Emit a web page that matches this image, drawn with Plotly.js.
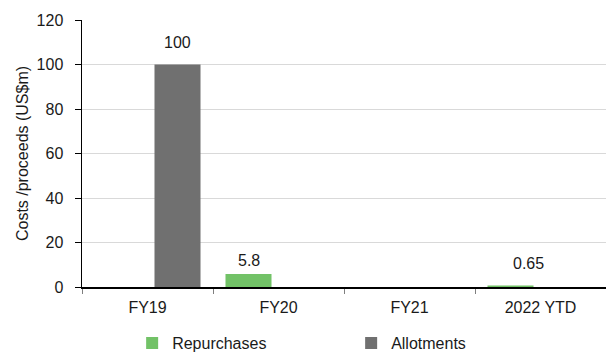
<!DOCTYPE html>
<html>
<head>
<meta charset="utf-8">
<script src="https://cdn.plot.ly/plotly-3.0.1.min.js"></script>
<style>html,body{margin:0;padding:0;background:#fff;}#chart{width:606px;height:356px;}</style>
</head>
<body>
<div id="chart"></div>
<script>
const categories = ["FY19", "FY20", "FY21", "2022 YTD"];
const repurchases = [0, 5.8, 0, 0.65];
const allotments = [100, 0, 0, 0];
const repurchaseLabels = ["", "5.8", "", "0.65"];
const allotmentLabels = ["100", "", "", ""];
const yTicks = [0, 20, 40, 60, 80, 100, 120];

const FONT = "Liberation Sans, Arial, sans-serif";
const GREEN = "#72c267";
const GRAY = "#707070";
const TEXT = "#1a1a1a";

const traces = [
  {type: "bar", name: "Repurchases", x: categories, y: repurchases,
   marker: {color: GREEN}, hoverinfo: "none"},
  {type: "bar", name: "Allotments", x: categories, y: allotments,
   marker: {color: GRAY}, hoverinfo: "none"}
];

// data labels built from the label arrays, anchored to each bar
const annotations = [];
function addLabels(labels, values, offsetFrac, xShift, yShift) {
  labels.forEach((t, i) => {
    if (!t) return;
    annotations.push({
      x: i + offsetFrac, xref: "x", y: values[i], yref: "y",
      text: t, showarrow: false, yanchor: "bottom", xanchor: "center",
      yshift: yShift[i], xshift: xShift[i],
      font: {family: FONT, size: 16, color: TEXT}
    });
  });
}
addLabels(repurchaseLabels, repurchases, -0.229, [0, 0, 0, 18], [6, 3, 6, 12]);
addLabels(allotmentLabels, allotments, 0.229, [0, 0, 0, 0], [12, 6, 6, 6]);

const layout = {
  width: 606, height: 356,
  margin: {l: 82, r: 0, t: 20, b: 69},
  paper_bgcolor: "#fff", plot_bgcolor: "#fff",
  font: {family: FONT, size: 16, color: TEXT},
  barmode: "group",
  bargap: 0.084,
  bargroupgap: 0.233,
  showlegend: true,
  legend: {orientation: "h", xref: "paper", x: 0.0957, xanchor: "left",
           yref: "container", y: 0.0365, yanchor: "middle",
           font: {family: FONT, size: 16, color: TEXT}, entrywidth: 174,
           traceorder: "normal"},
  xaxis: {type: "category", showgrid: false, showline: true, linecolor: "#000", linewidth: 1.5,
          ticks: "outside", tickson: "boundaries", ticklen: 5, tickcolor: "#7f7f7f",
          ticklabelstandoff: 5, automargin: false,
          tickfont: {family: FONT, size: 16, color: TEXT}, fixedrange: true,
          range: [-0.5, 3.5], zeroline: false},
  yaxis: {range: [0, 120], tickvals: yTicks, showgrid: true, gridcolor: "#d9d9d9", gridwidth: 1,
          showline: true, linecolor: "#000", linewidth: 1.5, ticks: "outside", ticklen: 6,
          tickcolor: "#000", zeroline: false, ticklabelstandoff: 8, automargin: false,
          tickfont: {family: FONT, size: 16, color: TEXT},
          title: {text: "Costs /proceeds (US$m)", font: {family: FONT, size: 16, color: TEXT}, standoff: 4}},
  annotations: annotations
};

Plotly.newPlot("chart", traces, layout, {displayModeBar: false, staticPlot: true});
</script>
</body>
</html>
